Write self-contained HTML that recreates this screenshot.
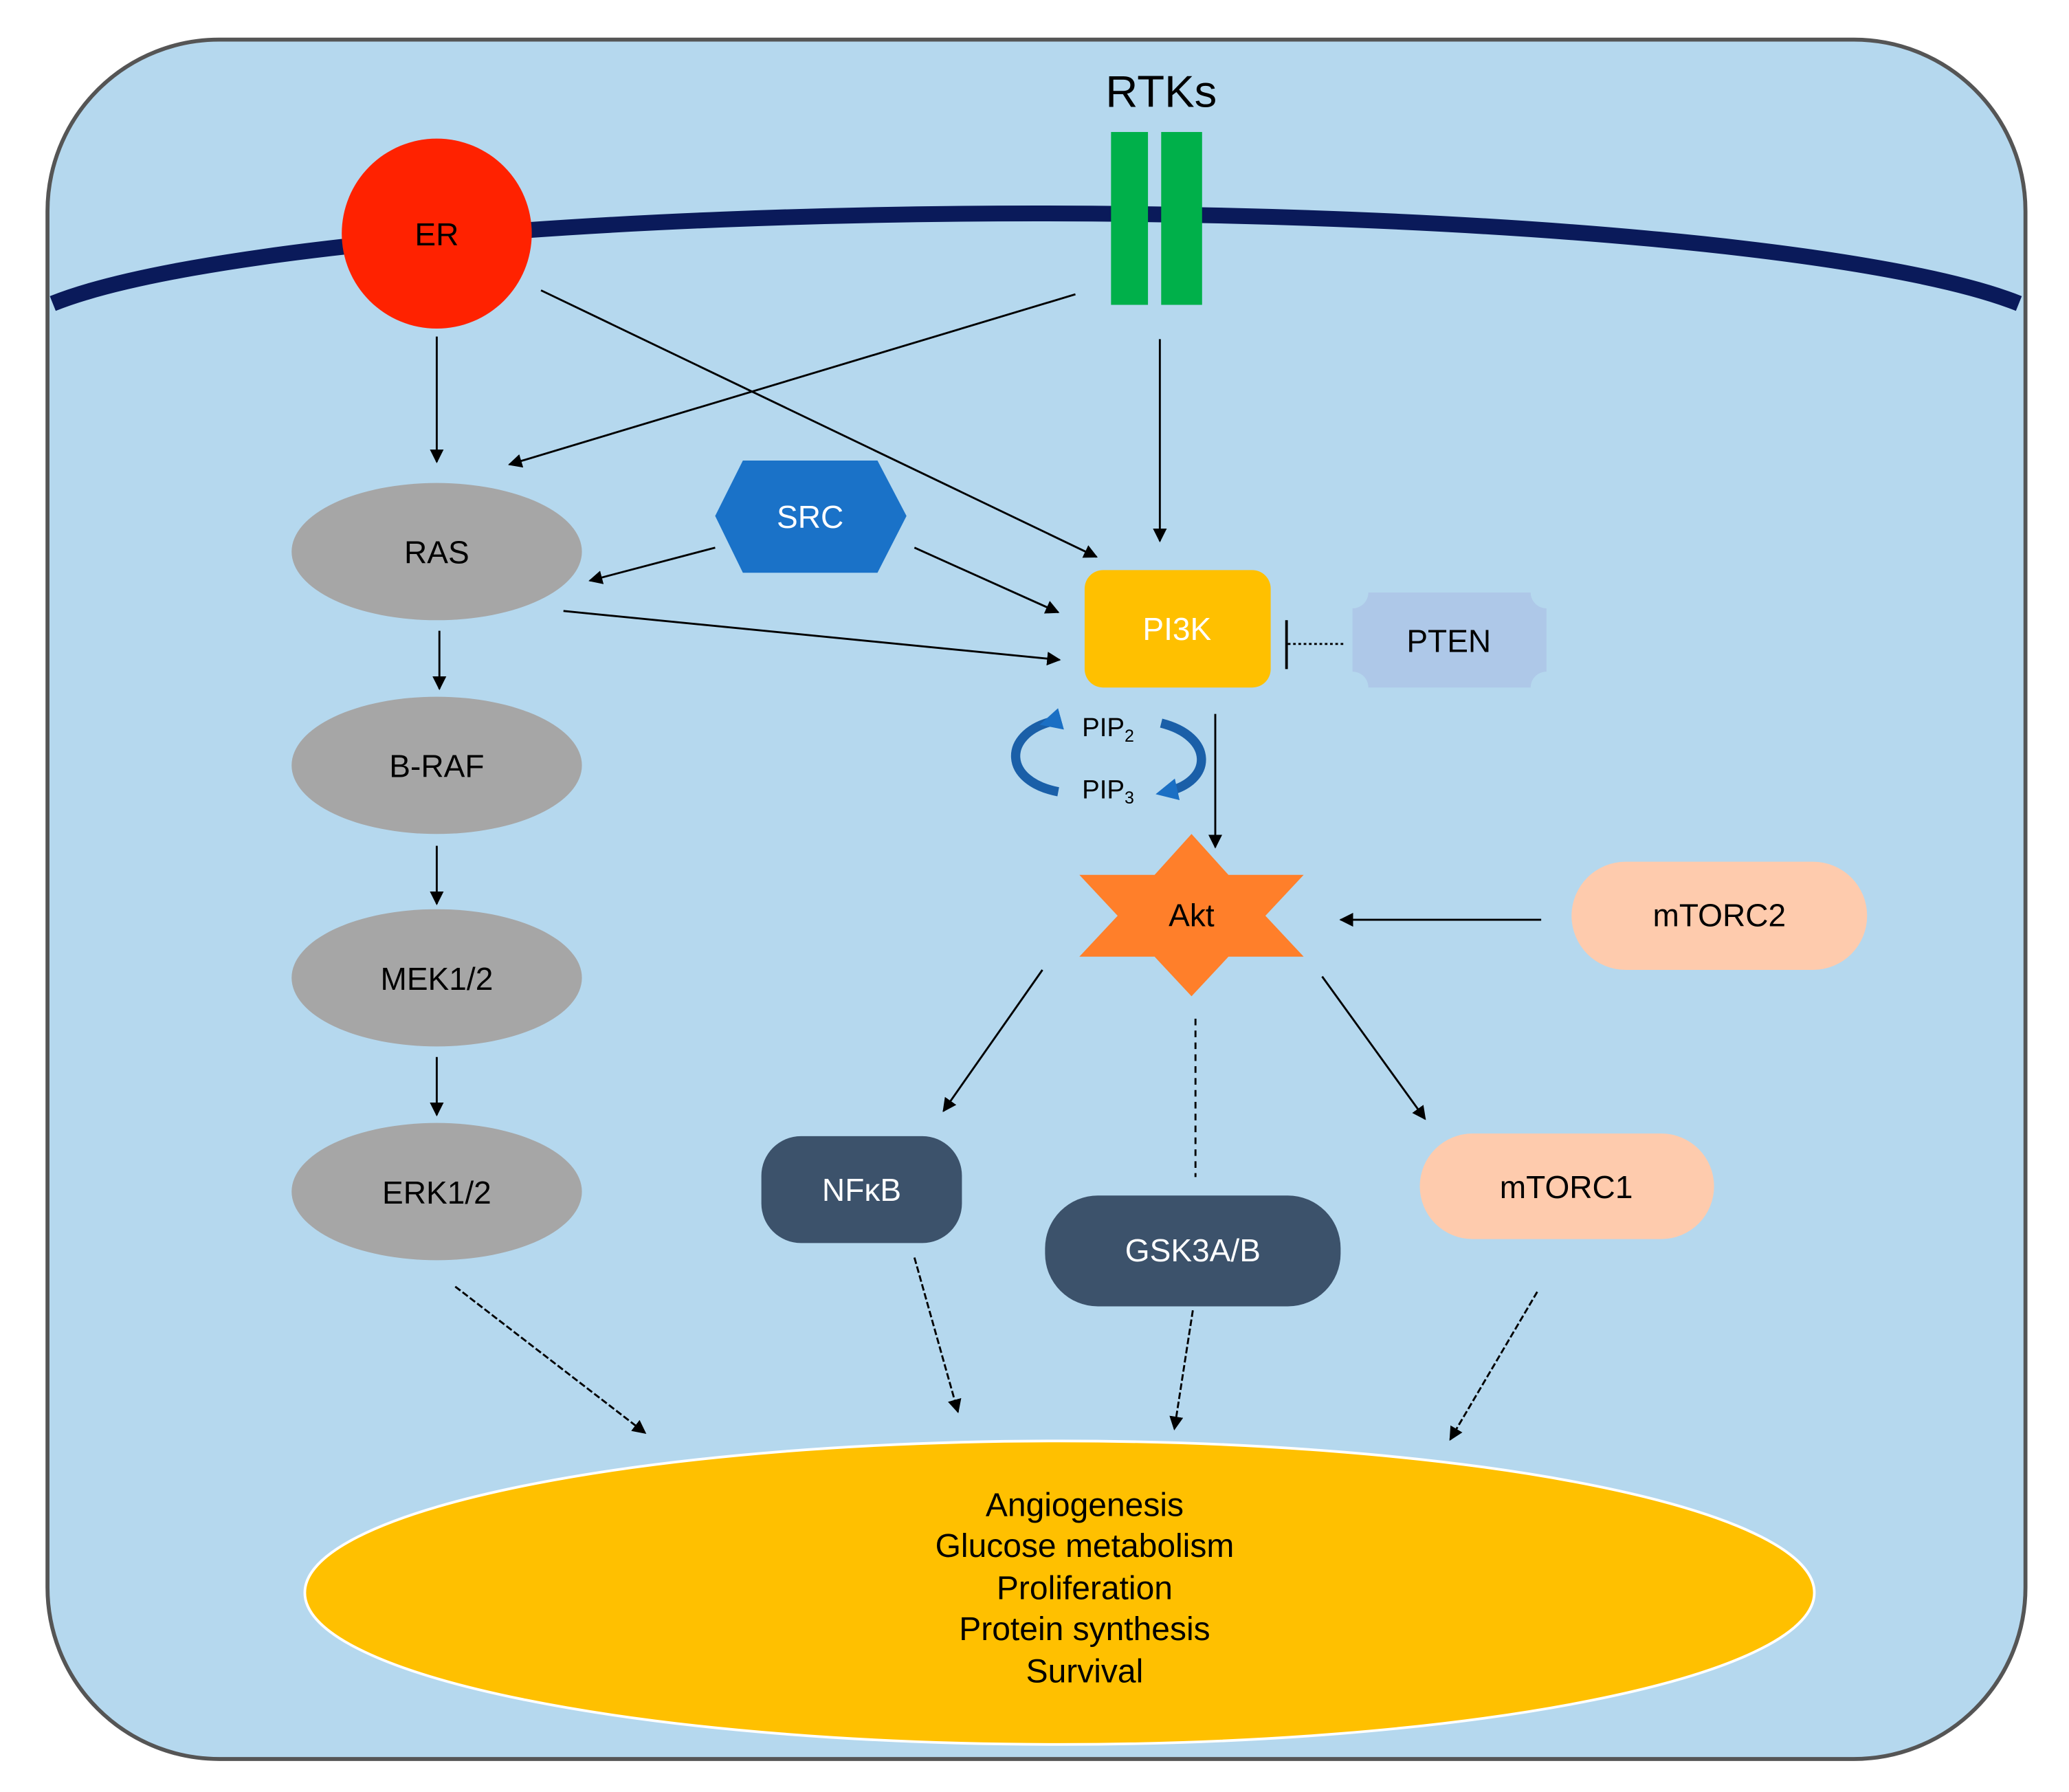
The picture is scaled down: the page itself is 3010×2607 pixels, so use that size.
<!DOCTYPE html>
<html><head><meta charset="utf-8">
<style>html,body{margin:0;padding:0;background:#fff}svg{display:block}</style></head>
<body>
<svg width="3010" height="2607" viewBox="0 0 1568 1358" xmlns="http://www.w3.org/2000/svg" font-family="Liberation Sans, sans-serif">
<defs>
<marker id="a" viewBox="0 0 10 10" refX="9" refY="5" markerWidth="7" markerHeight="7" orient="auto"><path d="M0,0L10,5L0,10z" fill="#000"/></marker>
<marker id="b" viewBox="0 0 10 10" refX="5" refY="5" markerWidth="2.4" markerHeight="2.4" orient="auto"><path d="M0,0L10,5L0,10z" fill="#1a6fc4"/></marker>
</defs>
<rect x="36" y="30" width="1499" height="1303" rx="130" fill="#b5d8ee" stroke="#555" stroke-width="3"/>
<path d="M40,230 A780,97 0 0 1 1530,230" fill="none" stroke="#0a1a5a" stroke-width="12"/>
<circle cx="331" cy="177" r="72" fill="#ff2200"/>
<text x="331" y="186" font-size="24" text-anchor="middle">ER</text>
<rect x="842" y="100" width="28" height="131" fill="#00b04a"/>
<rect x="880" y="100" width="31" height="131" fill="#00b04a"/>
<text x="880" y="81" font-size="34" text-anchor="middle">RTKs</text>
<g fill="#a6a6a6"><ellipse cx="331" cy="418" rx="110" ry="52"/><ellipse cx="331" cy="580" rx="110" ry="52"/><ellipse cx="331" cy="741" rx="110" ry="52"/><ellipse cx="331" cy="903" rx="110" ry="52"/></g>
<g font-size="24" text-anchor="middle"><text x="331" y="427">RAS</text><text x="331" y="589">B-RAF</text><text x="331" y="750">MEK1/2</text><text x="331" y="912">ERK1/2</text></g>
<polygon points="542,391 563,349 665,349 687,391 665,434 563,434" fill="#1a72c8"/>
<text x="614" y="400" font-size="24" fill="#fff" text-anchor="middle">SRC</text>
<rect x="822" y="432" width="141" height="89" rx="14" fill="#ffc000"/>
<text x="892" y="485" font-size="24" fill="#fff" text-anchor="middle">PI3K</text>
<path d="M1037,449 H1160 a12,12 0 0 0 12,12 V509 a12,12 0 0 0 -12,12 H1037 a12,12 0 0 0 -12,-12 V461 a12,12 0 0 0 12,-12z" fill="#aec8e8"/>
<text x="1098" y="494" font-size="24" text-anchor="middle">PTEN</text>
<line x1="1018" y1="488" x2="975" y2="488" stroke="#000" stroke-width="1.5" stroke-dasharray="2,2"/>
<line x1="975" y1="470" x2="975" y2="507" stroke="#000" stroke-width="2"/>
<polygon points="903,632 931,663 988,663 959,694 988,725 931,725 903,755 875,725 818,725 847,694 818,663 875,663" fill="#ff7f2a"/>
<text x="903" y="702" font-size="24" text-anchor="middle">Akt</text>
<rect x="1191" y="653" width="224" height="82" rx="41" fill="#fecbad"/>
<text x="1303" y="702" font-size="24" text-anchor="middle">mTORC2</text>
<rect x="577" y="861" width="152" height="81" rx="30" fill="#3c526b"/>
<text x="653" y="910" font-size="24" fill="#fff" text-anchor="middle">NFκB</text>
<rect x="792" y="906" width="224" height="84" rx="40" fill="#3c526b"/>
<text x="904" y="956" font-size="24" fill="#fff" text-anchor="middle">GSK3A/B</text>
<rect x="1076" y="859" width="223" height="80" rx="40" fill="#fecbad"/>
<text x="1187" y="908" font-size="24" text-anchor="middle">mTORC1</text>
<ellipse cx="803" cy="1207" rx="572" ry="115" fill="#ffc000" stroke="#fff" stroke-width="2"/>
<g font-size="25" text-anchor="middle"><text x="822" y="1149">Angiogenesis</text><text x="822" y="1180">Glucose metabolism</text><text x="822" y="1212">Proliferation</text><text x="822" y="1243">Protein synthesis</text><text x="822" y="1275">Survival</text></g>
<g stroke="#000" stroke-width="1.5" fill="none" marker-end="url(#a)">
<line x1="331" y1="255" x2="331" y2="350"/>
<line x1="410" y1="220" x2="831" y2="422"/>
<line x1="815" y1="223" x2="386" y2="352"/>
<line x1="879" y1="257" x2="879" y2="410"/>
<line x1="542" y1="415" x2="447" y2="440"/>
<line x1="693" y1="415" x2="802" y2="464"/>
<line x1="427" y1="463" x2="803" y2="500"/>
<line x1="333" y1="478" x2="333" y2="522"/>
<line x1="331" y1="641" x2="331" y2="685"/>
<line x1="331" y1="801" x2="331" y2="845"/>
<line x1="921" y1="541" x2="921" y2="642"/>
<line x1="1168" y1="697" x2="1016" y2="697"/>
<line x1="790" y1="735" x2="715" y2="842"/>
<line x1="1002" y1="740" x2="1080" y2="848"/>
</g>
<line x1="906" y1="772" x2="906" y2="892" stroke="#000" stroke-width="1.5" stroke-dasharray="5,4"/>
<g stroke="#000" stroke-width="1.5" fill="none" stroke-dasharray="5,2" marker-end="url(#a)">
<line x1="345" y1="975" x2="489" y2="1086"/>
<line x1="693" y1="953" x2="726" y2="1070"/>
<line x1="904" y1="993" x2="890" y2="1083"/>
<line x1="1165" y1="979" x2="1099" y2="1091"/>
</g>
<g fill="none" stroke="#1a5fa8" stroke-width="7">
<path d="M796,547 C760,557 760,592 802,600" marker-start="url(#b)"/>
<path d="M880,548 C920,558 920,592 884,600" marker-end="url(#b)"/>
</g>
<text x="820" y="558" font-size="20">PIP<tspan font-size="13" dy="4">2</tspan></text>
<text x="820" y="605" font-size="20">PIP<tspan font-size="13" dy="4">3</tspan></text>
</svg>
</body></html>
